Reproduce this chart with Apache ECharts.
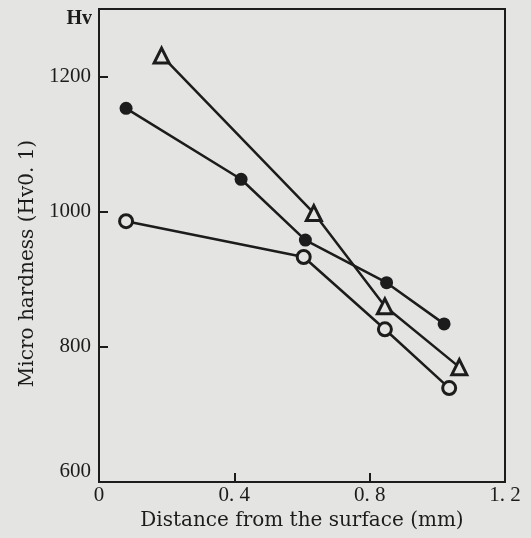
<!DOCTYPE html>
<html>
<head>
<meta charset="utf-8">
<script src="https://cdn.jsdelivr.net/npm/echarts@6/dist/echarts.min.js"></script>
<style>
html,body{margin:0;padding:0;background:#e4e4e2;}
#c{width:531px;height:538px;}
</style>
</head>
<body>
<div id="c"></div>
<script>
// Data: [distance (mm), hardness (Hv0.1)]
const filledCircle = [[0.08, 1153], [0.42, 1048], [0.61, 958], [0.85, 895], [1.02, 834]];
const openCircle = [[0.08, 986], [0.605, 933], [0.845, 826], [1.035, 739]];
const openTriangle = [[0.185, 1231], [0.635, 998], [0.845, 860], [1.065, 770]];
const xTickLabels = {0: '0', 0.4: '0. 4', 0.8: '0. 8', 1.2: '1. 2'};
const yTickLabels = [600, 800, 1000, 1200];

const ink = '#1c1c1c';
const bg = '#e4e4e2';
const font = 'Liberation Serif';
const nameFont = 'DejaVu Serif';

const chart = echarts.init(document.getElementById('c'), null, {renderer: 'canvas'});
function mk(data, symbol, filled, size) {
  return {
    type: 'line', data: data, symbol: symbol, symbolSize: size,
    lineStyle: {color: ink, width: 2.5},
    itemStyle: {color: filled ? ink : bg, borderColor: ink, borderWidth: filled ? 0 : 3},
    z: 3, animation: false
  };
}
chart.setOption({
  backgroundColor: bg,
  animation: false,
  grid: {left: 99, right: 26, top: 9, bottom: 56, show: true, borderColor: ink, borderWidth: 2, backgroundColor: 'transparent'},
  xAxis: {
    type: 'value', min: 0, max: 1.2, interval: 0.4,
    axisLine: {lineStyle: {color: ink, width: 2}},
    axisTick: {inside: true, length: 9, lineStyle: {color: ink, width: 2}},
    splitLine: {show: false},
    axisLabel: {color: ink, fontFamily: font, fontSize: 21, margin: 3,
      formatter: v => xTickLabels[Math.round(v * 10) / 10] ?? String(v)},
    name: 'Distance from the surface (mm)', nameLocation: 'middle', nameGap: 23,
    nameTextStyle: {color: ink, fontFamily: nameFont, fontSize: 20}
  },
  yAxis: [{
    type: 'value', min: 600, max: 1300, interval: 200,
    axisLine: {lineStyle: {color: ink, width: 2}},
    axisTick: {inside: true, length: 9, lineStyle: {color: ink, width: 2}},
    splitLine: {show: false},
    axisLabel: {color: ink, fontFamily: font, fontSize: 21, margin: 8, showMaxLabel: false,
      verticalAlignMinLabel: 'bottom',
      formatter: v => yTickLabels.includes(v) ? String(v) : ''},
    name: 'Micro hardness (Hv0. 1)', nameLocation: 'middle', nameGap: 61,
    nameTextStyle: {color: ink, fontFamily: nameFont, fontSize: 20, padding: [0, 36, 0, 0]}
  }, {
    // carries only the unit label "Hv" at the top of the left axis
    type: 'value', position: 'left', min: 600, max: 1300,
    axisLine: {show: false}, axisTick: {show: false}, axisLabel: {show: false}, splitLine: {show: false},
    name: 'Hv', nameLocation: 'end', nameGap: -10,
    nameTextStyle: {color: ink, fontFamily: font, fontSize: 20, fontWeight: 'bold',
      align: 'right', verticalAlign: 'middle', padding: [0, 7, 0, 0]}
  }],
  series: [
    mk(filledCircle, 'circle', true, 13),
    mk(openCircle, 'circle', false, 13),
    mk(openTriangle, 'triangle', false, 15)
  ]
});
</script>
</body>
</html>
